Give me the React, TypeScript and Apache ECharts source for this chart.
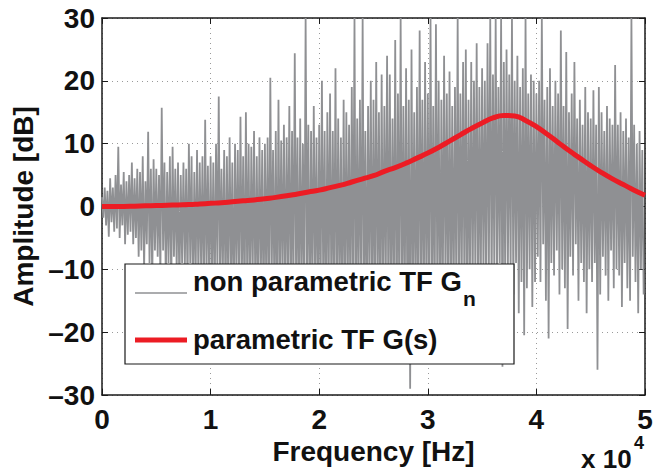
import React, { useEffect, useRef } from 'react';
import * as echarts from 'echarts';

// Measured (non parametric) TF: alternating upper / lower excursions, 250 Hz apart (dB)
const SAMPLE_STEP_HZ = 250;
const measuredUpper = [
  1.5, 3, 2.5, 4.5, 3, 5, 9.5, 3.5, 5.5, 4,
  5, 7, 4.5, 6, 5.5, 8, 4, 11.9, 6, 7.5,
  6, 5, 15.7, 7, 5.5, 8, 9.5, 6, 7, 5,
  7, 6, 10, 8, 5.5, 9, 7, 8, 13.8, 6.5,
  8, 7, 10, 17.5, 6, 9, 8, 11, 7, 10,
  9, 14.3, 8, 15, 10, 9.5, 12, 8, 11, 9,
  10, 11, 20.5, 9, 12, 17, 10.5, 13, 11, 16,
  12, 24.4, 11, 14, 10, 30, 13, 12, 16, 11,
  13, 20, 12, 15, 18, 12, 22, 14, 11, 17,
  15, 13, 19, 30, 14, 17, 30, 12, 16, 20,
  17, 23, 15, 21, 16, 24, 21, 14, 26.5, 18,
  30, 16, 22, 17, 25, 15, 19, 28, 17, 23,
  18, 30, 16, 29, 20, 17, 24, 18, 21.5, 16,
  19, 30, 18, 23, 25, 17, 23, 20, 26, 19,
  22, 20, 26, 30, 21, 30, 19, 30, 23, 25,
  21, 30, 20, 24, 19, 22, 30, 18, 21, 20,
  18, 20, 30, 17, 19, 22, 16, 20, 18, 28,
  16, 24.6, 15, 18, 23, 14, 17, 13, 19, 15,
  14, 18.5, 13, 19, 15, 12, 16, 14, 13, 22.5,
  13, 15, 12, 14, 11, 30, 13, 10, 12, 9,
];
const measuredLower = [
  -1.8, -3, -4.8, -2.5, -4, -3.5, -5, -3, -6, -4.5,
  -4, -6, -5, -8, -7, -10, -6, -9, -12, -7,
  -8, -11, -7, -12, -9, -13, -8, -10, -14, -9,
  -10, -13, -9, -15, -11, -12, -10, -16, -11, -13,
  -12, -15, -10, -14, -11, -16, -13, -12, -18, -11,
  -14, -12, -17, -13, -15, -11, -16, -14, -12, -18,
  -13, -17, -12, -15, -19, -14, -13, -16, -12, -17,
  -15, -13, -18, -14, -16, -12, -19, -15, -13, -17,
  -16, -14, -20, -13, -17, -15, -18, -14, -19, -16,
  -14, -18, -15, -21, -13, -17, -16, -19, -14, -18,
  -17, -15, -20, -16, -14, -19, -17, -15, -22, -16,
  -18, -16, -20, -29, -15, -17, -21, -14, -19, -16,
  -17, -15, -19, -14, -20, -16, -13, -18, -15, -17,
  -14, -18, -12, -16, -19, -13, -15, -11, -17, -14,
  -12, -15, -10, -14, -11, -13, -9, -25.5, -12, -10,
  -11, -14, -9, -17, -12, -20.5, -13, -10, -16, -12,
  -8, -12, -6, -15, -21, -9, -11, -7, -14, -10,
  -13, -19.5, -8, -11, -6, -15, -9, -12, -17, -10,
  -12, -9, -26, -14, -8, -11, -15, -7, -13, -10,
  -11, -16, -9, -13, -15, -8, -12, -17, -10, -14,
];

// Parametric TF G(s), every 1000 Hz (dB)
const MODEL_STEP_HZ = 1000;
const modelDb = [
  0.0, 0.0, 0.0, 0.05, 0.1, 0.15, 0.2, 0.25, 0.3, 0.4,
  0.5, 0.6, 0.75, 0.9, 1.05, 1.25, 1.45, 1.7, 2.0, 2.3,
  2.6, 3.0, 3.4, 3.9, 4.4, 4.9, 5.6, 6.2, 6.9, 7.7,
  8.5, 9.4, 10.4, 11.4, 12.4, 13.3, 14.1, 14.5, 14.4, 13.7,
  12.7, 11.5, 10.2, 8.9, 7.7, 6.5, 5.4, 4.4, 3.5, 2.6,
  1.8,
];

const xTicksHz = [0, 10000, 20000, 30000, 40000, 50000];
const yTicksDb = [-30, -20, -10, 0, 10, 20, 30];

const FONT = "'Liberation Sans', Arial, Helvetica, sans-serif";
const GRAY = '#8f9093';
const RED = '#ec1c24';

export default function App() {
  const ref = useRef<HTMLDivElement>(null);

  useEffect(() => {
    if (!ref.current) return;
    const chart = echarts.init(ref.current, undefined, { renderer: 'svg' });

    const measured: [number, number][] = [];
    for (let i = 0; i < measuredUpper.length; i++) {
      measured.push([i * SAMPLE_STEP_HZ, measuredUpper[i]]);
      measured.push([i * SAMPLE_STEP_HZ + SAMPLE_STEP_HZ / 2, measuredLower[i]]);
    }
    const model: [number, number][] = modelDb.map((v, i) => [i * MODEL_STEP_HZ, v]);

    const xMin = xTicksHz[0];
    const xMax = xTicksHz[xTicksHz.length - 1];
    const xInt = xTicksHz[1] - xTicksHz[0];
    const yMin = yTicksDb[0];
    const yMax = yTicksDb[yTicksDb.length - 1];
    const yInt = yTicksDb[1] - yTicksDb[0];

    const axisLine = { show: true, onZero: false, lineStyle: { color: '#1a1a1a', width: 1.5 } };
    const axisTick = { show: true, inside: true, length: 6, lineStyle: { color: '#1a1a1a', width: 1 } };
    const split = { show: true, lineStyle: { color: '#9a9a9a', width: 1, type: [1, 4] as any } };
    const labelStyle = { color: '#111', fontSize: 28, fontWeight: 'bold' as const, fontFamily: FONT };

    chart.setOption({
      animation: false,
      backgroundColor: '#ffffff',
      grid: { left: 102, right: 20, top: 18, bottom: 79, outerBoundsMode: 'none', containLabel: false },
      xAxis: [
        {
          type: 'value', min: xMin, max: xMax, interval: xInt, position: 'bottom',
          axisLine, axisTick, splitLine: split,
          axisLabel: { ...labelStyle, margin: 10, formatter: (v: number) => String(v / 10000) },
          name: 'Frequency [Hz]', nameLocation: 'middle', nameGap: 27,
          nameTextStyle: { ...labelStyle },
        },
        {
          type: 'value', min: xMin, max: xMax, interval: xInt, position: 'top',
          axisLine, axisTick, splitLine: { show: false }, axisLabel: { show: false },
        },
      ],
      yAxis: [
        {
          type: 'value', min: yMin, max: yMax, interval: yInt, position: 'left',
          axisLine, axisTick, splitLine: split,
          axisLabel: { ...labelStyle, margin: 7, formatter: (v: number) => (v < 0 ? '\u2013' + Math.abs(v) : String(v)) },
          name: 'Amplitude [dB]', nameLocation: 'middle', nameGap: 54,
          nameTextStyle: { ...labelStyle },
        },
        {
          type: 'value', min: yMin, max: yMax, interval: yInt, position: 'right',
          axisLine, axisTick, splitLine: { show: false }, axisLabel: { show: false },
        },
      ],
      series: [
        {
          name: 'non parametric TF Gn', type: 'line', data: measured, showSymbol: false, symbol: 'none',
          lineStyle: { color: GRAY, width: 1.8 }, z: 2, silent: true,
        },
        {
          name: 'parametric TF G(s)', type: 'line', data: model, showSymbol: false, symbol: 'none', smooth: true,
          lineStyle: { color: RED, width: 5 }, z: 3, silent: true,
        },
      ],
      graphic: [
        { type: 'rect', z: 100, shape: { x: 125, y: 264, width: 389, height: 100 }, style: { fill: '#fff', stroke: '#1a1a1a', lineWidth: 1.2 } },
        { type: 'line', z: 101, shape: { x1: 135, y1: 293, x2: 187, y2: 293 }, style: { stroke: GRAY, lineWidth: 1.5 } },
        { type: 'line', z: 101, shape: { x1: 135, y1: 340, x2: 187, y2: 340 }, style: { stroke: RED, lineWidth: 5 } },
        { type: 'text', z: 101, x: 193, y: 281, style: { text: 'non parametric TF G', fill: '#111', font: `bold 27.5px ${FONT}`, verticalAlign: 'middle', align: 'left' } },
        { type: 'text', z: 101, x: 463, y: 298, style: { text: 'n', fill: '#111', font: `bold 21px ${FONT}`, verticalAlign: 'middle', align: 'left' } },
        { type: 'text', z: 101, x: 193, y: 339, style: { text: 'parametric TF G(s)', fill: '#111', font: `bold 27.5px ${FONT}`, verticalAlign: 'middle', align: 'left' } },
        { type: 'text', z: 101, x: 581, y: 459, style: { text: 'x 10', fill: '#111', font: `bold 26px ${FONT}`, verticalAlign: 'middle', align: 'left' } },
        { type: 'text', z: 101, x: 634, y: 443, style: { text: '4', fill: '#111', font: `bold 18px ${FONT}`, verticalAlign: 'middle', align: 'left' } },
      ],
    });

    return () => chart.dispose();
  }, []);

  return <div ref={ref} style={{ position: 'fixed', left: 0, top: 0, width: 665, height: 474 }} />;
}
